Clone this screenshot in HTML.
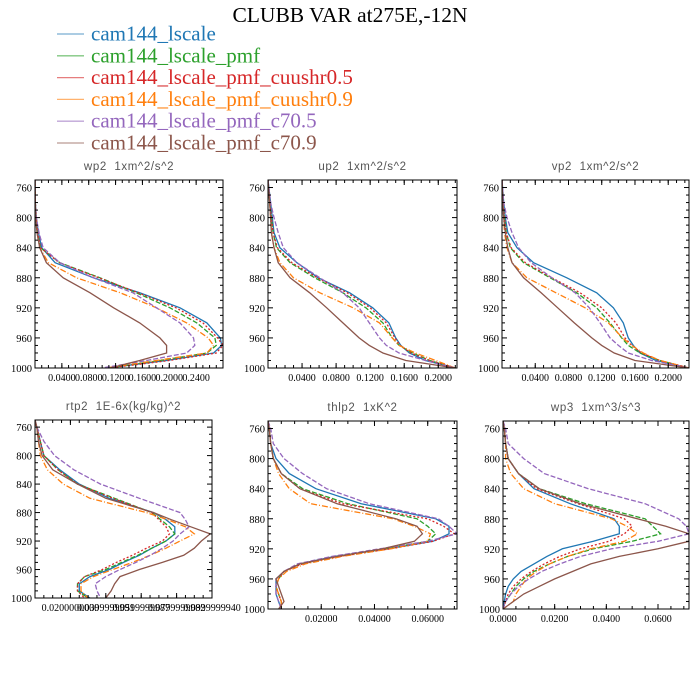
<!DOCTYPE html>
<html><head><meta charset="utf-8"><style>
html,body{margin:0;padding:0;background:#fff;}
svg{display:block;}
</style></head><body>
<svg id="chart" width="700" height="700" viewBox="0 0 700 700" xmlns="http://www.w3.org/2000/svg">
<text x="350" y="22" text-anchor="middle" font-family="Liberation Serif, serif" font-size="21.5" fill="#000">CLUBB VAR at275E,-12N</text>
<g id="legend"></g>
<g id="panels"></g>
</svg>
<script>
const seriesNames = ["cam144_lscale","cam144_lscale_pmf","cam144_lscale_pmf_cuushr0.5","cam144_lscale_pmf_cuushr0.9","cam144_lscale_pmf_c70.5","cam144_lscale_pmf_c70.9"];
const seriesColors = ["#1f77b4","#2ca02c","#d62728","#ff7f0e","#9467bd","#8c564b"];
const seriesDash = ["","5,2","2,2","6,2,1,2","5,2",""];
const topLevels = [750,780,800,820,840,860,880,900,920,940,960,970,980,990,1000];
const bottomLevels = [750,760,780,800,820,840,860,880,890,900,910,920,930,940,950,960,970,980,990,1000];
const yTickLabels = [760,800,840,880,920,960,1000];

const wp2Values = [
 [0,0.0005,0.002,0.005,0.01,0.03,0.087,0.156,0.216,0.256,0.276,0.278,0.266,0.196,0.107],
 [0,0.0005,0.002,0.004,0.008,0.037,0.097,0.151,0.201,0.241,0.268,0.27,0.256,0.186,0.11],
 [0,0.0005,0.002,0.004,0.008,0.036,0.095,0.154,0.21,0.25,0.272,0.28,0.27,0.2,0.11],
 [0,0.0005,0.001,0.003,0.007,0.02,0.062,0.127,0.181,0.226,0.258,0.266,0.256,0.181,0.105],
 [0,0.0005,0.002,0.006,0.012,0.037,0.087,0.146,0.181,0.216,0.236,0.238,0.226,0.166,0.1],
 [0,0.0005,0.001,0.003,0.007,0.017,0.042,0.082,0.117,0.156,0.186,0.196,0.196,0.156,0.112]];
const up2Values = [
 [0,0.003,0.005,0.007,0.014,0.034,0.059,0.096,0.123,0.142,0.15,0.156,0.166,0.185,0.22],
 [0,0.002,0.004,0.006,0.01,0.026,0.055,0.088,0.115,0.135,0.146,0.154,0.17,0.19,0.22],
 [0,0.002,0.004,0.006,0.011,0.028,0.058,0.093,0.12,0.139,0.149,0.155,0.168,0.19,0.22],
 [0,0.002,0.003,0.004,0.007,0.014,0.03,0.061,0.1,0.131,0.146,0.154,0.173,0.197,0.22],
 [0,0.003,0.007,0.012,0.018,0.034,0.061,0.088,0.107,0.119,0.131,0.139,0.154,0.185,0.22],
 [0,0.002,0.003,0.004,0.007,0.012,0.026,0.049,0.069,0.088,0.107,0.119,0.135,0.162,0.22]];
const vp2Values = [
 [0,0.002,0.004,0.007,0.018,0.038,0.078,0.114,0.134,0.146,0.152,0.158,0.166,0.185,0.225],
 [0,0.001,0.003,0.005,0.01,0.026,0.058,0.09,0.114,0.13,0.144,0.152,0.166,0.19,0.225],
 [0,0.001,0.003,0.005,0.011,0.028,0.06,0.094,0.12,0.137,0.148,0.156,0.168,0.19,0.225],
 [0,0.001,0.002,0.003,0.006,0.012,0.03,0.065,0.1,0.128,0.145,0.156,0.17,0.19,0.225],
 [0,0.002,0.006,0.012,0.02,0.035,0.06,0.088,0.105,0.118,0.13,0.14,0.152,0.18,0.225],
 [0,0.001,0.002,0.004,0.007,0.012,0.026,0.047,0.067,0.087,0.108,0.12,0.135,0.16,0.225]];
const rtp2Values = [
 [0,0.001,0.003,0.005,0.014,0.025,0.042,0.067,0.074,0.079,0.079,0.074,0.066,0.059,0.05,0.042,0.031,0.025,0.025,0.031],
 [0,0.001,0.003,0.005,0.013,0.024,0.045,0.066,0.071,0.076,0.079,0.074,0.066,0.058,0.049,0.04,0.028,0.024,0.024,0.03],
 [0,0.001,0.003,0.005,0.013,0.024,0.044,0.066,0.07,0.074,0.076,0.072,0.063,0.055,0.046,0.038,0.028,0.024,0.024,0.028],
 [0,0.001,0.002,0.003,0.007,0.016,0.031,0.063,0.075,0.085,0.09,0.082,0.074,0.065,0.055,0.044,0.033,0.026,0.026,0.03],
 [0,0.001,0.005,0.011,0.022,0.037,0.059,0.082,0.085,0.087,0.082,0.078,0.072,0.065,0.057,0.048,0.04,0.034,0.035,0.037],
 [0,0.001,0.002,0.004,0.01,0.024,0.04,0.067,0.077,0.088,0.099,0.094,0.09,0.084,0.072,0.059,0.048,0.045,0.043,0.04]];
const thlp2Values = [
 [0,0.0005,0.001,0.003,0.008,0.018,0.035,0.063,0.068,0.068,0.062,0.045,0.025,0.012,0.006,0.003,0.003,0.003,0.004,0.005],
 [0,0.0005,0.001,0.002,0.005,0.013,0.03,0.056,0.06,0.063,0.06,0.044,0.026,0.012,0.006,0.004,0.003,0.004,0.005,0.005],
 [0,0.0005,0.001,0.002,0.005,0.012,0.028,0.06,0.066,0.07,0.062,0.046,0.027,0.013,0.006,0.004,0.003,0.004,0.005,0.005],
 [0,0.0005,0.001,0.002,0.004,0.008,0.016,0.047,0.055,0.061,0.06,0.046,0.028,0.014,0.007,0.004,0.003,0.004,0.005,0.005],
 [0,0.001,0.002,0.006,0.013,0.022,0.038,0.064,0.068,0.071,0.06,0.042,0.024,0.011,0.006,0.003,0.003,0.003,0.004,0.005],
 [0,0.0005,0.001,0.002,0.005,0.012,0.026,0.048,0.056,0.058,0.055,0.043,0.026,0.012,0.006,0.003,0.004,0.005,0.006,0.004]];
const wp3Values = [
 [0,0.0005,0.001,0.002,0.006,0.012,0.026,0.043,0.045,0.045,0.035,0.023,0.017,0.012,0.007,0.004,0.002,0.001,0.0005,0],
 [0,0.0005,0.001,0.002,0.006,0.014,0.032,0.055,0.058,0.061,0.05,0.035,0.025,0.018,0.012,0.008,0.005,0.003,0.001,0],
 [0,0.0005,0.001,0.002,0.006,0.013,0.029,0.047,0.05,0.047,0.041,0.03,0.022,0.016,0.011,0.007,0.004,0.002,0.001,0],
 [0,0.0005,0.001,0.001,0.003,0.008,0.02,0.042,0.048,0.052,0.047,0.034,0.025,0.018,0.013,0.009,0.007,0.005,0.004,0],
 [0,0.001,0.002,0.008,0.016,0.033,0.055,0.068,0.071,0.072,0.06,0.042,0.03,0.022,0.015,0.01,0.006,0.003,0.001,0],
 [0,0.0005,0.001,0.002,0.006,0.014,0.03,0.052,0.063,0.072,0.072,0.06,0.045,0.034,0.027,0.02,0.014,0.008,0.004,0]];

const wp2Ticks = [0.04,0.08,0.12,0.16,0.20,0.24];
const wp2TickLabels = ["0.0400","0.0800","0.1200","0.1600","0.2000","0.2400"];
const up2Ticks = [0.04,0.08,0.12,0.16,0.20];
const up2TickLabels = ["0.0400","0.0800","0.1200","0.1600","0.2000"];
const rtp2Ticks = [0.02,0.04,0.06,0.08,0.10];
const rtp2TickLabels = ["0.0200000000","0.0399999991","0.0599999987","0.0799999982","0.0999999940"];
const thlp2Ticks = [0.02,0.04,0.06];
const thlp2TickLabels = ["0.02000","0.04000","0.06000"];
const wp3Ticks = [0,0.02,0.04,0.06];
const wp3TickLabels = ["0.0000","0.0200","0.0400","0.0600"];

const NS = "http://www.w3.org/2000/svg";
function mk(tag, attrs, parent){const e=document.createElementNS(NS,tag);for(const k in attrs)e.setAttribute(k,attrs[k]);parent.appendChild(e);return e;}

const leg = document.getElementById('legend');
seriesNames.forEach((n,i)=>{
  const y = 34 + i*21.8;
  const ln = mk('line',{x1:57,x2:84,y1:y,y2:y,stroke:seriesColors[i],'stroke-width':1.3,'stroke-opacity':0.6},leg);
  
  
  const t = mk('text',{x:91,y:y+6.5,'font-family':'Liberation Serif, serif','font-size':21,fill:seriesColors[i]},leg);
  t.textContent = n;
  
  
});

const panels = [
 {name:'wp2',title:'wp2  1xm^2/s^2',x0:35,x1:223,y0:180,y1:368,xmax:0.28,levels:topLevels,vals:wp2Values,ticks:wp2Ticks,labels:wp2TickLabels,minor:0.01},
 {name:'up2',title:'up2  1xm^2/s^2',x0:268,x1:457,y0:180,y1:368,xmax:0.222,levels:topLevels,vals:up2Values,ticks:up2Ticks,labels:up2TickLabels,minor:0.01},
 {name:'vp2',title:'vp2  1xm^2/s^2',x0:502,x1:689,y0:180,y1:368,xmax:0.225,levels:topLevels,vals:vp2Values,ticks:up2Ticks,labels:up2TickLabels,minor:0.01},
 {name:'rtp2',title:'rtp2  1E-6x(kg/kg)^2',x0:35,x1:212,y0:420,y1:598,xmax:0.1,levels:bottomLevels,vals:rtp2Values,ticks:rtp2Ticks,labels:rtp2TickLabels,minor:0.005},
 {name:'thlp2',title:'thlp2  1xK^2',x0:268,x1:457,y0:421,y1:609,xmax:0.071,levels:bottomLevels,vals:thlp2Values,ticks:thlp2Ticks,labels:thlp2TickLabels,minor:0.005},
 {name:'wp3',title:'wp3  1xm^3/s^3',x0:503,x1:689,y0:421,y1:609,xmax:0.072,levels:bottomLevels,vals:wp3Values,ticks:wp3Ticks,labels:wp3TickLabels,minor:0.005}
];

const root = document.getElementById('panels');
panels.forEach(p=>{
  const g = mk('g',{},root);
  
  
  const xs = v => p.x0 + v/p.xmax*(p.x1-p.x0);
  const ys = lev => p.y0 + (lev-750)/250*(p.y1-p.y0);
  const tt = mk('text',{x:(p.x0+p.x1)/2,y:p.y0-10,'text-anchor':'middle','font-family':'Liberation Sans, sans-serif','font-size':11.5,fill:'#555','letter-spacing':'0.6'},g);
  tt.textContent = p.title.replace(/  /g,'\u00a0\u00a0');
  
  
  const cp = 'clip-'+p.name;
  const cpel = mk('clipPath',{id:cp},g);
  mk('rect',{x:p.x0,y:p.y0,width:p.x1-p.x0,height:p.y1-p.y0},cpel);
  p.vals.forEach((arr,i)=>{
    const pts = arr.map((v,j)=>xs(v).toFixed(1)+','+ys(p.levels[j]).toFixed(1)).join(' ');
    const pl = mk('polyline',{points:pts,fill:'none',stroke:seriesColors[i],'stroke-width':1.3,'clip-path':'url(#'+cp+')'},g);
    if(seriesDash[i]) pl.setAttribute('stroke-dasharray',seriesDash[i]);
    
    
  });
  const fr = mk('rect',{x:p.x0,y:p.y0,width:p.x1-p.x0,height:p.y1-p.y0,fill:'none',stroke:'#000','stroke-width':1},g);
  
  
  for(let lev=750; lev<=1000; lev+=10){
    const y = ys(lev); const major = (lev-760)%40===0 && lev>=760;
    const L = major?5:3;
    mk('line',{x1:p.x0,x2:p.x0+L,y1:y,y2:y,stroke:'#000','stroke-width':1},g);
    mk('line',{x1:p.x1,x2:p.x1-L,y1:y,y2:y,stroke:'#000','stroke-width':1},g);
  }
  yTickLabels.forEach(lev=>{
    const t = mk('text',{x:p.x0-3,y:ys(lev)+4,'text-anchor':'end','font-family':'Liberation Serif, serif','font-size':10.5,fill:'#000'},g);
    t.textContent = lev;
    
    
  });
  for(let v=0; v<=p.xmax+1e-9; v+=p.minor){
    const x = xs(v);
    mk('line',{x1:x,x2:x,y1:p.y1,y2:p.y1-3,stroke:'#000','stroke-width':1},g);
    mk('line',{x1:x,x2:x,y1:p.y0,y2:p.y0+3,stroke:'#000','stroke-width':1},g);
  }
  p.ticks.forEach((v,i)=>{
    const x = xs(v);
    mk('line',{x1:x,x2:x,y1:p.y1,y2:p.y1-5,stroke:'#000','stroke-width':1},g);
    mk('line',{x1:x,x2:x,y1:p.y0,y2:p.y0+5,stroke:'#000','stroke-width':1},g);
    const t = mk('text',{x:x,y:p.y1+13,'text-anchor':'middle','font-family':'Liberation Serif, serif','font-size':10,fill:'#000'},g);
    t.textContent = p.labels[i];
    
    
  });
});
</script>
</body></html>
